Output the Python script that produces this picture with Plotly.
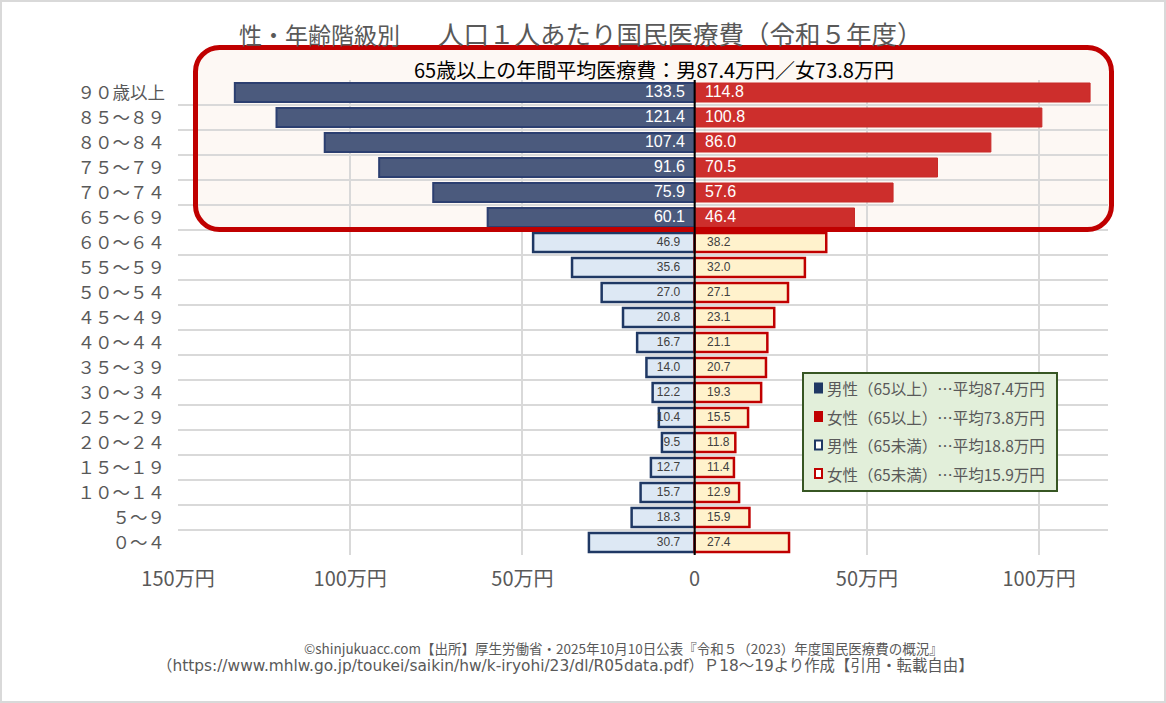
import plotly.graph_objects as go

# ---------------- data ----------------
age_labels = ["０～４", "５～９", "１０～１４", "１５～１９", "２０～２４", "２５～２９",
              "３０～３４", "３５～３９", "４０～４４", "４５～４９", "５０～５４", "５５～５９",
              "６０～６４", "６５～６９", "７０～７４", "７５～７９", "８０～８４", "８５～８９",
              "９０歳以上"]
male_cost = [30.7, 18.3, 15.7, 12.7, 9.5, 10.4, 12.2, 14.0, 16.7, 20.8, 27.0, 35.6,
             46.9, 60.1, 75.9, 91.6, 107.4, 121.4, 133.5]
female_cost = [27.4, 15.9, 12.9, 11.4, 11.8, 15.5, 19.3, 20.7, 21.1, 23.1, 27.1, 32.0,
               38.2, 46.4, 57.6, 70.5, 86.0, 100.8, 114.8]
x_tickvals = [-150, -100, -50, 0, 50, 100]
x_ticktext = ["150万円", "100万円", "50万円", "0", "50万円", "100万円"]
legend_texts = ["男性（65以上）…平均87.4万円", "女性（65以上）…平均73.8万円",
                "男性（65未満）…平均18.8万円", "女性（65未満）…平均15.9万円"]
title_part1 = "性・年齢階級別"
title_part2 = "人口１人あたり国民医療費（令和５年度）"
box_text = "65歳以上の年間平均医療費：男87.4万円／女73.8万円"
footer1 = "©shinjukuacc.com【出所】厚生労働省・2025年10月10日公表『令和５（2023）年度国民医療費の概況』"
footer2 = "（https://www.mhlw.go.jp/toukei/saikin/hw/k-iryohi/23/dl/R05data.pdf）Ｐ18～19より作成【引用・転載自由】"

SENIOR_START = 13  # index of 65～69

# ---------------- layout helpers (pixel -> paper) ----------------
W, H = 1166, 703
L, R, T, B = 178, 1108, 80, 555


def px(x):
    return (x - L) / (R - L)


def py(y):
    return (B - y) / (B - T)


def rrect_path(x0, y0, x1, y1, r):
    k = 0.5523 * r
    pts = [
        ("M", [(x0 + r, y0)]),
        ("L", [(x1 - r, y0)]),
        ("C", [(x1 - r + k, y0), (x1, y0 + r - k), (x1, y0 + r)]),
        ("L", [(x1, y1 - r)]),
        ("C", [(x1, y1 - r + k), (x1 - r + k, y1), (x1 - r, y1)]),
        ("L", [(x0 + r, y1)]),
        ("C", [(x0 + r - k, y1), (x0, y1 - r + k), (x0, y1 - r)]),
        ("L", [(x0, y0 + r)]),
        ("C", [(x0, y0 + r - k), (x0 + r - k, y0), (x0 + r, y0)]),
    ]
    s = ""
    for cmd, ps in pts:
        s += cmd + " " + " ".join(f"{px(a):.5f},{py(b):.5f}" for a, b in ps) + " "
    return s + "Z"


pos = list(range(len(age_labels)))
old_idx = pos[SENIOR_START:]
young_idx = pos[:SENIOR_START]

JP = "Noto Sans CJK JP, sans-serif"
NUM = "Liberation Sans, Arial, sans-serif"
GRAY = "#595959"

fig = go.Figure()

# bars
fig.add_trace(go.Bar(
    y=[pos[i] for i in young_idx], x=[-male_cost[i] for i in young_idx], orientation="h",
    width=0.76, marker=dict(color="#dde8f4", line=dict(color="#1f3864", width=2.5)),
    hoverinfo="skip"))
fig.add_trace(go.Bar(
    y=[pos[i] for i in young_idx], x=[female_cost[i] for i in young_idx], orientation="h",
    width=0.76, marker=dict(color="#fff2cc", line=dict(color="#c00000", width=2.5)),
    hoverinfo="skip"))
fig.add_trace(go.Bar(
    y=[pos[i] for i in old_idx], x=[-male_cost[i] for i in old_idx], orientation="h",
    width=0.76, marker=dict(color="#4b5a7d", line=dict(color="#2c3f70", width=2)),
    hoverinfo="skip"))
fig.add_trace(go.Bar(
    y=[pos[i] for i in old_idx], x=[female_cost[i] for i in old_idx], orientation="h",
    width=0.76, marker=dict(color="#cd2e2c", line=dict(color="#c82a28", width=1)),
    hoverinfo="skip"))

# value labels
fig.add_trace(go.Scatter(
    y=[pos[i] for i in young_idx], x=[-4.2] * len(young_idx), mode="text",
    text=[f"{male_cost[i]:.1f}" for i in young_idx], textposition="middle left",
    textfont=dict(family=NUM, size=12, color="#404040"), cliponaxis=False, hoverinfo="skip"))
fig.add_trace(go.Scatter(
    y=[pos[i] for i in young_idx], x=[3.6] * len(young_idx), mode="text",
    text=[f"{female_cost[i]:.1f}" for i in young_idx], textposition="middle right",
    textfont=dict(family=NUM, size=12, color="#404040"), cliponaxis=False, hoverinfo="skip"))
fig.add_trace(go.Scatter(
    y=[pos[i] for i in old_idx], x=[-2.8] * len(old_idx), mode="text",
    text=[f"{male_cost[i]:.1f}" for i in old_idx], textposition="middle left",
    textfont=dict(family=NUM, size=16, color="white"), cliponaxis=False, hoverinfo="skip"))
fig.add_trace(go.Scatter(
    y=[pos[i] for i in old_idx], x=[3.0] * len(old_idx), mode="text",
    text=[f"{female_cost[i]:.1f}" for i in old_idx], textposition="middle right",
    textfont=dict(family=NUM, size=16, color="white"), cliponaxis=False, hoverinfo="skip"))

shapes = []
# outer frame
shapes.append(dict(type="rect", xref="paper", yref="paper", x0=px(1), x1=px(1165), y0=py(1), y1=py(702),
                   line=dict(color="#d9d9d9", width=2), fillcolor="rgba(0,0,0,0)", layer="below"))
# 65+ highlight box (fill below, outline above)
box = rrect_path(195.5, 47.5, 1111.5, 229.5, 24)
shapes.append(dict(type="path", xref="paper", yref="paper", path=box, fillcolor="#fdf8f4",
                   line=dict(width=0), layer="below"))
shapes.append(dict(type="path", xref="paper", yref="paper", path=box, fillcolor="rgba(0,0,0,0)",
                   line=dict(color="#c00000", width=5), layer="above"))
# central axis line
shapes.append(dict(type="line", xref="x", yref="paper", x0=0, x1=0, y0=0, y1=1,
                   line=dict(color="black", width=2), layer="above"))
# legend box
shapes.append(dict(type="rect", xref="paper", yref="paper", x0=px(803), x1=px(1057), y0=py(373), y1=py(491),
                   fillcolor="#e2efda", line=dict(color="#375623", width=2), layer="above"))
leg_y = [388, 416.5, 445, 473.5]
leg_fill = ["#1f3864", "#c00000", "white", "white"]
leg_line = ["#1f3864", "#c00000", "#1f3864", "#c00000"]
for yy, fc, lc in zip(leg_y, leg_fill, leg_line):
    shapes.append(dict(type="rect", xref="paper", yref="paper", x0=px(815), x1=px(822),
                       y0=py(yy - 4.5), y1=py(yy + 4.5), fillcolor=fc,
                       line=dict(color=lc, width=2), layer="above"))

annotations = []
title_html = (f"<span style='font-size:23px'>{title_part1}</span>"
              f"<span style='font-size:19px'>　　</span>"
              f"<span style='font-size:25.5px'>{title_part2}</span>")
annotations.append(dict(text=title_html, xref="paper", yref="paper", x=px(581), y=py(33),
                        xanchor="center", yanchor="middle", showarrow=False,
                        font=dict(family=JP, size=23, color=GRAY)))
annotations.append(dict(text=box_text, xref="paper", yref="paper", x=px(654), y=py(70),
                        xanchor="center", yanchor="middle", showarrow=False,
                        font=dict(family=JP, size=20, color="black")))
for yy, t in zip(leg_y, legend_texts):
    annotations.append(dict(text=t, xref="paper", yref="paper", x=px(825), y=py(yy),
                            xanchor="left", yanchor="middle", showarrow=False,
                            font=dict(family=JP, size=15.5, color=GRAY)))
annotations.append(dict(text=footer1, xref="paper", yref="paper", x=px(623), y=py(648),
                        xanchor="center", yanchor="middle", showarrow=False,
                        font=dict(family=JP, size=13.5, color=GRAY)))
annotations.append(dict(text=footer2, xref="paper", yref="paper", x=px(565), y=py(666),
                        xanchor="center", yanchor="middle", showarrow=False,
                        font=dict(family="DejaVu Sans, Noto Sans CJK JP, sans-serif", size=15.4, color=GRAY)))

fig.update_layout(
    width=W, height=H,
    margin=dict(l=L, r=W - R, t=T, b=H - B, pad=0),
    paper_bgcolor="white", plot_bgcolor="rgba(0,0,0,0)",
    barmode="overlay", showlegend=False,
    shapes=shapes, annotations=annotations,
    xaxis=dict(range=[-150, 120], tickvals=x_tickvals, ticktext=x_ticktext,
               showgrid=True, gridcolor="#d9d9d9", gridwidth=2, zeroline=False,
               showline=False, ticks="", ticklabelstandoff=10,
               tickfont=dict(family=JP, size=20, color=GRAY)),
    yaxis=dict(range=[-0.5, 18.5], tickvals=pos, ticktext=age_labels,
               showgrid=False, zeroline=False, showline=False, ticks="",
               ticklabelstandoff=12,
               tickfont=dict(family=JP, size=17.5, color=GRAY),
               minor=dict(tickvals=[i - 0.5 for i in range(len(age_labels) + 1)],
                          showgrid=True, gridcolor="#d9d9d9", gridwidth=2)),
)

fig.write_html("out.html")
